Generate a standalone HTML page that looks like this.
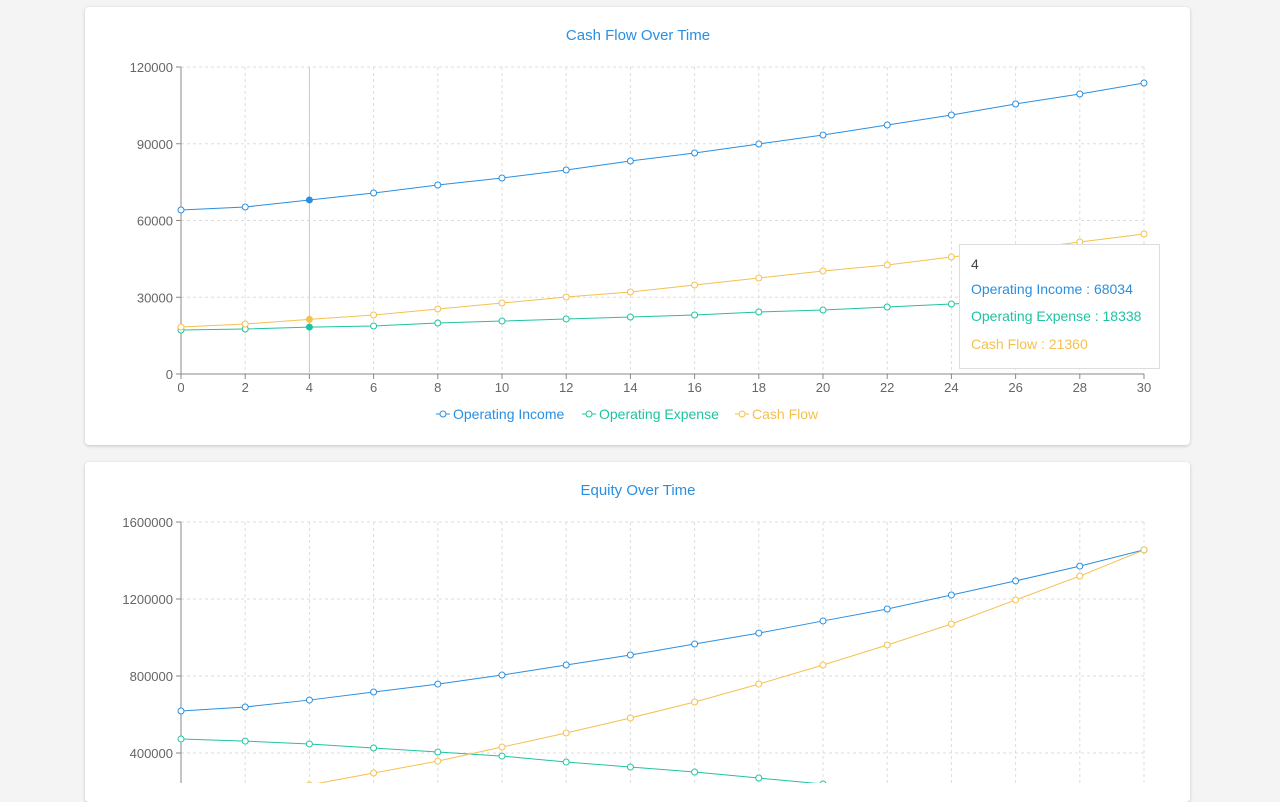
<!DOCTYPE html>
<html><head><meta charset="utf-8"><style>
body{margin:0;background:#f4f4f4;width:1280px;height:783px;overflow:hidden;font-family:"Liberation Sans",sans-serif}
.card{position:absolute;left:85px;width:1105px;background:#fff;border-radius:4px;box-shadow:0 1px 3px rgba(0,0,0,.2)}
svg{position:absolute;left:0;top:0}
</style></head><body>
<div class="card" style="top:7px;height:438px"></div>
<div class="card" style="top:462px;height:340px"></div>
<svg id="s" width="1280" height="783"></svg>
<script>
const xs=[0,2,4,6,8,10,12,14,16,18,20,22,24,26,28,30];
const income=[64100,65270,68034,70750,73870,76600,79740,83260,86380,89900,93420,97330,101240,105540,109450,113750];
const expense=[17200,17590,18338,18760,19930,20700,21500,22280,23060,24230,25000,26190,27360,28500,29700,30880];
const cashflow=[18370,19540,21360,23060,25400,27750,30100,32050,34790,37520,40260,42600,45730,48470,51600,54720];
const yTicks1=[0,30000,60000,90000,120000];
const eqIncome=[618000,639000,675000,717000,758000,805000,857000,909000,966000,1023000,1086000,1148000,1221000,1294000,1371000,1455000];
const eqExpense=[473000,462000,447000,426000,405000,384000,353000,327000,301000,270000,239000,208000,170000,135000,95000,55000];
const eqEquity=[170000,200000,234000,296000,358000,431000,504000,582000,665000,758000,857000,961000,1070000,1195000,1319000,1455000];
const yTicks2=[0,400000,800000,1200000,1600000];
const C=['#2a8fe0','#20c3a0','#f5c050'];
const NS='http://www.w3.org/2000/svg',S=document.getElementById('s');
function el(t,a,p){const e=document.createElementNS(NS,t);for(const k in a)e.setAttribute(k,a[k]);(p||S).appendChild(e);return e;}
function chart(name,title,titleY,y0,y1,ymax,ticks,series,names,hi){
  const g=el('g',{});
  
  const X=v=>181+v/30*963, Y=v=>y0-(v/ymax)*(y0-y1);
  const t=el('text',{x:638,y:titleY,'text-anchor':'middle','font-size':15,fill:'#2a8fe0'},g);t.textContent=title;
  
  ticks.forEach(v=>{el('line',{x1:181,x2:1144,y1:Y(v),y2:Y(v),stroke:'#ddd','stroke-dasharray':'3,3'},g);
    el('line',{x1:176,x2:181,y1:Y(v),y2:Y(v),stroke:'#888'},g);
    const l=el('text',{x:173,y:Y(v)+5,'text-anchor':'end','font-size':13,fill:'#666'},g);l.textContent=v;
    });
  xs.forEach(v=>{el('line',{x1:X(v),x2:X(v),y1:y1,y2:y0,stroke:'#ddd','stroke-dasharray':'3,3'},g);
    if(y0<783){el('line',{x1:X(v),x2:X(v),y1:y0,y2:y0+5,stroke:'#888'},g);
    const l=el('text',{x:X(v),y:y0+18,'text-anchor':'middle','font-size':13,fill:'#666'},g);l.textContent=v;
    }});
  el('line',{x1:181,x2:181,y1:y1,y2:y0,stroke:'#888'},g);
  if(y0<783)el('line',{x1:181,x2:1144,y1:y0,y2:y0,stroke:'#888'},g);
  if(hi!=null)el('line',{x1:X(hi),x2:X(hi),y1:y1,y2:y0,stroke:'#ccc'},g);
  series.forEach((d,i)=>{
    const p=el('polyline',{points:d.map((v,j)=>X(xs[j])+','+Y(v)).join(' '),fill:'none',stroke:C[i],'stroke-width':1},g);
    
    d.forEach((v,j)=>{const c=el('circle',{cx:X(xs[j]),cy:Y(v),r:3,fill:xs[j]===hi?C[i]:'#fff',stroke:C[i]},g);
      });
  });
  return {X,Y};
}
chart('cash-flow-chart','Cash Flow Over Time',40,374,67,120000,yTicks1,[income,expense,cashflow],['operating-income','operating-expense','cash-flow'],4);
chart('equity-chart','Equity Over Time',495,830,522,1600000,yTicks2,[eqIncome,eqExpense,eqEquity],['eq-income','eq-expense','equity'],null);
// legend
const lg=[['Operating Income',436],['Operating Expense',582],['Cash Flow',735]];
lg.forEach((l,i)=>{const g=el('g',{});
  
  el('line',{x1:l[1],x2:l[1]+14,y1:414,y2:414,stroke:C[i]},g);
  el('circle',{cx:l[1]+7,cy:414,r:3,fill:'#fff',stroke:C[i]},g);
  const t=el('text',{x:l[1]+17,y:419,'font-size':14,fill:C[i]},g);t.textContent=l[0];});
// tooltip
const tg=el('g',{});

el('rect',{x:959.5,y:244.5,width:200,height:124,fill:'#fff',stroke:'#ddd'},tg);
[['4','#444',269],['Operating Income : 68034',C[0],294],['Operating Expense : 18338',C[1],321],['Cash Flow : 21360',C[2],349]].forEach(r=>{
  const t=el('text',{x:971,y:r[2],'font-size':14,fill:r[1]},tg);t.textContent=r[0];});
</script>
</body></html>
